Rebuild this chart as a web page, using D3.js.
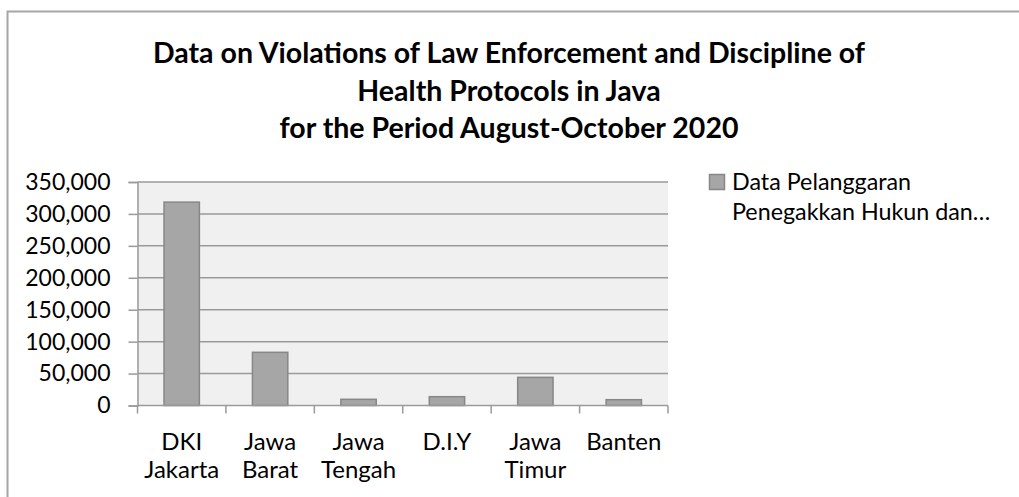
<!DOCTYPE html>
<html>
<head>
<meta charset="utf-8">
<title>violations</title>
<script src="https://cdn.jsdelivr.net/npm/d3@7"></script>
<style>
  body { margin:0; padding:0; background:#fff; overflow:hidden; }
  text { font-family: Lato, "Open Sans", sans-serif; fill:#000; }
</style>
</head>
<body>
<svg id="chart" width="1019" height="497"></svg>
<script>
// data
var categories = [["DKI","Jakarta"],["Jawa","Barat"],["Jawa","Tengah"],["D.I.Y"],["Jawa","Timur"],["Banten"]];
var values = [318500, 83300, 9700, 13800, 44100, 9100];
var yTicks = [0, 50000, 100000, 150000, 200000, 250000, 300000, 350000];
var titleLines = ["Data on Violations of Law Enforcement and Discipline of", "Health Protocols in Java", "for the Period August-October 2020"];
var legendLines = ["Data Pelanggaran", "Penegakkan Hukun dan\u2026"];

var svg = d3.select("#chart");

var plotL = 137.5, plotR = 668, plotT = 182, plotB = 405.5;

// chart frame (only top/left visible in the crop)
svg.append("path")
  .attr("d", "M7.5,497 V11.5 H1019")
  .attr("fill", "none").attr("stroke", "#a6a6a6").attr("stroke-width", 2);

// title
svg.append("g").selectAll("text")
  .data(titleLines).enter().append("text")
  .attr("x", 509)
  .attr("y", function(d, i) { return 63 + i*37.5; })
  .attr("text-anchor", "middle")
  .attr("font-weight", "bold")
  .attr("font-size", 28.5)
  .text(function(d) { return d; });

var x = d3.scaleBand().domain(d3.range(categories.length)).range([plotL, plotR]).paddingInner(0.6).paddingOuter(0.3);
var xb = d3.scaleBand().domain(d3.range(categories.length)).range([plotL, plotR]);
var y = d3.scaleLinear().domain([0, 350000]).range([plotB, plotT]);

// plot background
svg.append("rect")
  .attr("x", plotL).attr("y", plotT)
  .attr("width", plotR - plotL).attr("height", plotB - plotT)
  .attr("fill", "#f0f0f0");

// grid
svg.append("g").selectAll("line")
  .data(yTicks.slice(1)).enter().append("line")
  .attr("x1", plotL).attr("x2", plotR)
  .attr("y1", function(d) { return y(d); }).attr("y2", function(d) { return y(d); })
  .attr("stroke", "#9a9a9a").attr("stroke-width", 1.5);

// bars
svg.append("g").selectAll("rect")
  .data(values).enter().append("rect")
  .attr("x", function(d, i) { return x(i); })
  .attr("width", x.bandwidth())
  .attr("y", function(d) { return y(d); })
  .attr("height", function(d) { return plotB - y(d); })
  .attr("fill", "#a6a6a6").attr("stroke", "#878787").attr("stroke-width", 1.5);

// y axis
var yAxis = d3.axisLeft(y).tickValues(yTicks).tickSize(9).tickPadding(18)
  .tickFormat(d3.format(","));
var gy = svg.append("g").attr("transform", "translate(" + plotL + ",0)").call(yAxis);
gy.select(".domain").attr("stroke", "#9a9a9a").attr("stroke-width", 1.5);
gy.selectAll(".tick line").attr("stroke", "#9a9a9a").attr("stroke-width", 1.5);
gy.selectAll(".tick text").attr("font-size", 23).attr("font-family", "Lato, sans-serif").attr("fill", "#000");

// x axis: ticks at category boundaries
var xAxisLine = svg.append("g");
xAxisLine.append("line")
  .attr("x1", plotL).attr("x2", plotR).attr("y1", plotB).attr("y2", plotB)
  .attr("stroke", "#9a9a9a").attr("stroke-width", 1.5);
xAxisLine.selectAll("line.t")
  .data(d3.range(categories.length + 1)).enter().append("line")
  .attr("class", "t")
  .attr("x1", function(d) { return plotL + d * xb.step(); })
  .attr("x2", function(d) { return plotL + d * xb.step(); })
  .attr("y1", plotB).attr("y2", plotB + 8)
  .attr("stroke", "#9a9a9a").attr("stroke-width", 1.5);

var xl = svg.append("g").selectAll("text")
  .data(categories).enter().append("text")
  .attr("text-anchor", "middle")
  .attr("font-size", 24)
  .attr("transform", function(d, i) { return "translate(" + (xb(i) + xb.bandwidth()/2) + ",0)"; });
xl.selectAll("tspan")
  .data(function(d) { return d; }).enter().append("tspan")
  .attr("x", 0)
  .attr("y", function(d, i) { return 450 + i*27.5; })
  .text(function(d) { return d; });

// legend
svg.append("rect")
  .attr("x", 709.5).attr("y", 174.5).attr("width", 15).attr("height", 15)
  .attr("fill", "#a6a6a6").attr("stroke", "#878787").attr("stroke-width", 1.5);
svg.append("g").selectAll("text")
  .data(legendLines).enter().append("text")
  .attr("x", 732)
  .attr("y", function(d, i) { return 190 + i*29.5; })
  .attr("font-size", 23.3)
  .text(function(d) { return d; });
</script>
</body>
</html>
